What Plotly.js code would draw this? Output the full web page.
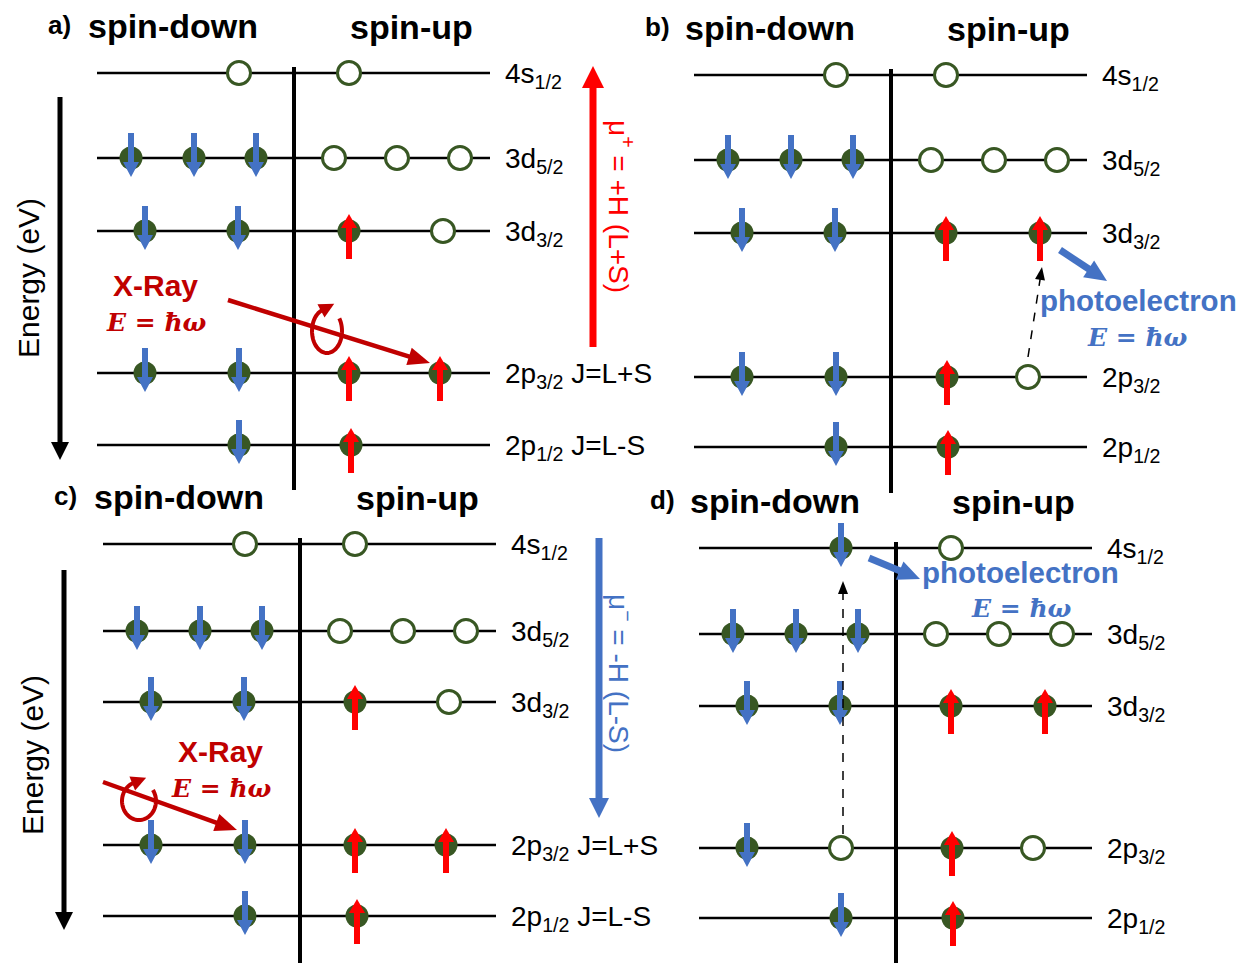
<!DOCTYPE html>
<html>
<head>
<meta charset="utf-8">
<script src="https://cdn.plot.ly/plotly-3.0.1.min.js"></script>
<style>html,body{margin:0;padding:0;background:#fff}</style>
</head>
<body>
<div id="chart" style="width:1245px;height:963px"></div>
<script>
// Energy levels, top (4s) to bottom (2p1/2)
const levelNames = ['4s', '3d', '3d', '2p', '2p'];
const levelSubs = ['1/2', '5/2', '3/2', '3/2', '1/2'];
const couplingLabels = ['', '', '', 'J=L+S', 'J=L-S'];

// Occupation of each level: d = spin-down electron, u = spin-up electron, o = empty state
const panelA_down = ['o', 'ddd', 'dd', 'dd', 'd'];
const panelA_up   = ['o', 'ooo', 'uo', 'uu', 'u'];
const panelB_down = ['o', 'ddd', 'dd', 'dd', 'd'];
const panelB_up   = ['o', 'ooo', 'uu', 'uo', 'u'];
const panelC_down = ['o', 'ddd', 'dd', 'dd', 'd'];
const panelC_up   = ['o', 'ooo', 'uo', 'uu', 'u'];
const panelD_down = ['d', 'ddd', 'dd', 'do', 'd'];
const panelD_up   = ['o', 'ooo', 'uu', 'uo', 'u'];

const panelTags = ['a)', 'b)', 'c)', 'd)'];
const momentLabels = ['μ<sup>+</sup> = +H (L+S)', 'μ<sup>−</sup> = -H (L-S)'];

// ---- layout of the four panels (pixel units) ----
const FONT = 'Liberation Sans, Arial, sans-serif';
const MATH = 'DejaVu Serif, serif';
const BLUE = '#4472C4', RED = '#FF0000', DARKRED = '#C00000', GREEN = '#385723';

const panels = [
  {tag: panelTags[0], down: panelA_down, up: panelA_up, div: 294, ys: [73, 158, 231, 373, 445], bottom: 490, coupling: true},
  {tag: panelTags[1], down: panelB_down, up: panelB_up, div: 891, ys: [75, 160, 233, 377, 447], bottom: 493, coupling: false, up2p: [56, 137]},
  {tag: panelTags[2], down: panelC_down, up: panelC_up, div: 300, ys: [544, 631, 702, 845, 916], bottom: 963, coupling: true},
  {tag: panelTags[3], down: panelD_down, up: panelD_up, div: 896, ys: [548, 634, 706, 848, 918], bottom: 963, coupling: false, up2p: [56, 137]}
];
// horizontal slot offsets from the spin divider
const downSlots = [[-55], [-163, -100, -38], [-149, -56], [-149, -55], [-55]];
const upSlots   = [[55], [40, 103, 166], [55, 149], [55, 146], [57]];

const shapes = [], annotations = [];

function seg(x0, y0, x1, y1, color, width, layer, dash) {
  shapes.push({type: 'line', xref: 'x', yref: 'y', x0, y0, x1, y1, layer: layer || 'above',
    line: {color, width, dash: dash || 'solid'}});
}
function poly(pts, color, closed, width) {
  const d = 'M' + pts.map(p => p[0].toFixed(2) + ',' + p[1].toFixed(2)).join(' L') + (closed ? ' Z' : '');
  shapes.push({type: 'path', xref: 'x', yref: 'y', path: d, layer: 'above',
    fillcolor: closed ? color : 'rgba(0,0,0,0)',
    line: closed ? {width: 0} : {color, width}});
}
function arrow(x0, y0, x1, y1, color, width, headLen, headW, dash) {
  const dx = x1 - x0, dy = y1 - y0, L = Math.hypot(dx, dy);
  const ux = dx / L, uy = dy / L, nx = -uy, ny = ux;
  const bx = x1 - ux * headLen, by = y1 - uy * headLen;
  seg(x0, y0, bx + ux * 2, by + uy * 2, color, width, 'above', dash);
  poly([[x1, y1], [bx + nx * headW / 2, by + ny * headW / 2], [bx - nx * headW / 2, by - ny * headW / 2]], color, true);
}
function loop(cx, cy, rx, ry, color) {
  // circular-polarisation loop with an arrowhead at its end
  const pts = [];
  const t0 = -35, t1 = 250;
  for (let t = t0; t <= t1; t += 5) {
    const r = t * Math.PI / 180;
    pts.push([cx + rx * Math.cos(r), cy + ry * Math.sin(r)]);
  }
  poly(pts, color, false, 4);
  const r = t1 * Math.PI / 180;
  const ex = cx + rx * Math.cos(r), ey = cy + ry * Math.sin(r);
  let tx = -rx * Math.sin(r), ty = ry * Math.cos(r);
  const n = Math.hypot(tx, ty); tx /= n; ty /= n;
  arrow(ex - tx * 2, ey - ty * 2, ex + tx * 14, ey + ty * 14, color, 0.1, 15, 15);
}
function text(x, y, t, size, color, opts) {
  annotations.push(Object.assign({x, y, xref: 'x', yref: 'y', text: t, showarrow: false,
    xanchor: 'left', yanchor: 'middle', font: {family: FONT, size, color}}, opts || {}));
}

const filled = {x: [], y: []}, empty = {x: [], y: []}, spins = [];

panels.forEach(p => {
  const D = p.div, ys = p.ys;
  const left = D - 197, right = D + 196;
  // header
  text(D - 248, ys[0] - 48, '<b>' + p.tag + '</b>', 26, '#000');
  text(D - 208, ys[0] - 47, '<b>spin-down</b>', 34, '#000');
  text(D + 54, ys[0] - 46, '<b>spin-up</b>', 34, '#000');
  // divider between spin channels
  seg(D, ys[0] - 6, D, p.bottom, '#000', 4, 'below');
  ys.forEach((y, i) => {
    seg(left, y, right, y, '#000', 2.5, 'below');
    let lab = levelNames[i] + '<sub>' + levelSubs[i] + '</sub>';
    if (p.coupling && couplingLabels[i]) lab += ' ' + couplingLabels[i];
    text(D + 209, y + 2, lab, 28, '#000');
    const sides = [[p.down[i], downSlots[i]], [p.up[i], (i === 3 && p.up2p) ? p.up2p : upSlots[i]]];
    sides.forEach(([occ, slots]) => {
      occ.split('').forEach((s, k) => {
        const x = D + slots[k];
        if (s === 'o') { empty.x.push(x); empty.y.push(y); }
        else { filled.x.push(x); filled.y.push(y); spins.push([x, y, s]); }
      });
    });
  });
});

// spin arrows on occupied states
spins.forEach(([x, y, s]) => {
  if (s === 'd') arrow(x, y - 25, x, y + 19, BLUE, 6, 15, 16);
  else arrow(x, y + 28, x, y - 17, RED, 6, 14, 16);
});

// energy axes
[[60, 97, 460, 28, 278], [64, 570, 930, 32, 755]].forEach(([x, y0, y1, tx, ty]) => {
  arrow(x, y0, x, y1, '#000', 5, 18, 18);
  text(tx, ty, 'Energy (eV)', 30, '#000', {xanchor: 'center', textangle: -90});
});

// magnetic moment arrows
arrow(593, 347, 593, 66, RED, 7, 22, 22);
text(621, 206, momentLabels[0], 28, RED, {xanchor: 'center', textangle: 90});
arrow(599, 538, 599, 818, BLUE, 7, 20, 20);
text(621, 673, momentLabels[1], 28, BLUE, {xanchor: 'center', textangle: 90});

// incoming circularly polarised x-rays
const photonEq = '<b><i>E</i> = <i>ħω</i></b>';
arrow(228, 300, 430, 363, DARKRED, 4.5, 22, 18);
loop(327, 331, 15, 22, DARKRED);
text(155, 285, '<b>X-Ray</b>', 30, DARKRED, {xanchor: 'center'});
text(156, 322, photonEq, 25, DARKRED, {xanchor: 'center', font: {family: MATH, size: 25, color: DARKRED}});

arrow(103, 782, 237, 830, DARKRED, 4.5, 22, 18);
loop(139, 801, 17, 19, DARKRED);
text(220, 751, '<b>X-Ray</b>', 30, DARKRED, {xanchor: 'center'});
text(221, 788, photonEq, 25, DARKRED, {xanchor: 'center', font: {family: MATH, size: 25, color: DARKRED}});

// excitation and emitted photoelectrons
arrow(1028, 357, 1042, 267, '#000', 1.5, 13, 10, 'dash');
arrow(1060, 250, 1107, 281, BLUE, 7, 22, 20);
text(1038, 300, '<b>photoelectron</b>', 29.5, BLUE);
text(1137, 337, photonEq, 25, BLUE, {xanchor: 'center', font: {family: MATH, size: 25, color: BLUE}});

arrow(843, 834, 843, 581, '#000', 1.5, 13, 10, 'dash');
arrow(869, 558, 920, 579, BLUE, 7, 22, 20);
text(920, 572, '<b>photoelectron</b>', 29.5, BLUE);
text(1021, 608, photonEq, 25, BLUE, {xanchor: 'center', font: {family: MATH, size: 25, color: BLUE}});

const traces = [
  {type: 'scatter', mode: 'markers', x: filled.x, y: filled.y, hoverinfo: 'skip',
   marker: {size: 23, color: GREEN, line: {width: 0}}},
  {type: 'scatter', mode: 'markers', x: empty.x, y: empty.y, hoverinfo: 'skip',
   marker: {size: 23, color: '#ffffff', line: {color: GREEN, width: 3}}}
];

const layout = {
  width: 1245, height: 963, margin: {l: 0, r: 0, t: 0, b: 0},
  paper_bgcolor: '#fff', plot_bgcolor: '#fff', showlegend: false, hovermode: false,
  xaxis: {range: [0, 1245], visible: false, fixedrange: true},
  yaxis: {range: [963, 0], visible: false, fixedrange: true},
  shapes, annotations
};
Plotly.newPlot('chart', traces, layout, {staticPlot: true, displayModeBar: false});
</script>
</body>
</html>
